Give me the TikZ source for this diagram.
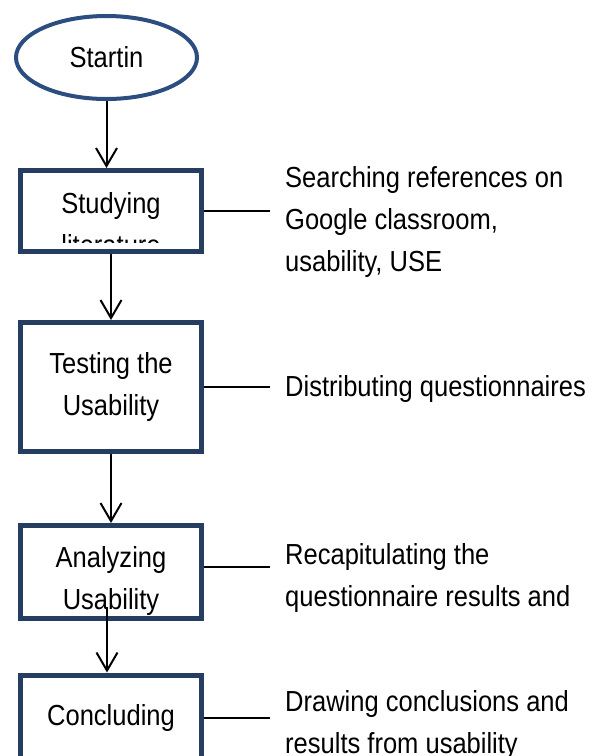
\documentclass[tikz,border=0pt]{standalone}
\usepackage{fontspec}
\setmainfont{Liberation Sans}[FakeStretch=0.88]
\usetikzlibrary{arrows.meta,shapes.geometric,calc}
\definecolor{startblue}{RGB}{44,77,127}
\definecolor{boxnavy}{RGB}{36,61,97}
\tikzset{>={Straight Barb[length=18pt,width=21pt]}}

\begin{document}
\begin{tikzpicture}[x=1pt, y=-1pt, font=\fontsize{29}{42}\selectfont,
    stepbox/.style={draw=boxnavy, line width=5pt, minimum width=181pt, inner sep=0pt, align=center},
    boxtext/.style={anchor=base, inner sep=0pt, align=center},
    desc/.style={anchor=base west, inner sep=0pt, align=left},
    flow/.style={->, line width=2pt},
    tie/.style={line width=1.5pt, shorten >=15pt}]
		\useasboundingbox (0,0) rectangle (594,756);
		\clip (0,0) rectangle (594,756);
		
		\node[ellipse, draw=startblue, line width=4pt, minimum width=181pt, minimum height=83pt, inner sep=0pt] (start) at (106.5,57.5) {Startin};
		
		\node[stepbox, minimum height=81pt] (study) at (111,211) {};
		\node[stepbox, minimum height=129pt] (test) at (111,387) {Testing the\\Usability};
		\node[stepbox, minimum height=93pt] (analyze) at (111,572) {};
		\node[stepbox, minimum height=86pt] (conclude) at (111,718) {Concluding};
		
		% text that does not fit in its box (base = last line)
		\begin{scope}
			\clip (study.north west) rectangle ($(study.south east)+(0,-12)$);
			\node[boxtext] (studytext) at (111,255) {Studying\\literature};
		\end{scope}
		\begin{scope}
			\clip (analyze.north west) rectangle ($(analyze.south east)+(0,-6.5)$);
			\node[boxtext] (analyzetext) at (111,609) {Analyzing\\Usability};
		\end{scope}
		
		\node[desc] (studydesc) at (285,271) {Searching references on\\Google classroom,\\usability, USE};
		\node[desc] (testdesc) at (285,396) {Distributing questionnaires};
		\node[desc] (analyzedesc) at (285,606) {Recapitulating the\\questionnaire results and};
		\node[desc] (concludedesc) at (285,753) {Drawing conclusions and\\results from usability};
		
		\draw[flow] (start.south) -- (start.south |- study.north);
		\draw[flow] (study) -- (test);
		\draw[flow] (test) -- (analyze);
		\coordinate (usabase) at ($(analyze.south)+(-4,-14)$);
		\draw[flow] (usabase) -- (usabase |- conclude.north);
		
		\draw[tie] (study.east) -- (study.east -| studydesc.west);
		\draw[tie] (test.east) -- (test.east -| testdesc.west);
		\draw[tie] ([yshift=5pt]analyze.east) -- ([yshift=5pt]analyze.east -| analyzedesc.west);
		\draw[tie] (conclude.east) -- (conclude.east -| concludedesc.west);
	\end{tikzpicture}
\end{document}
